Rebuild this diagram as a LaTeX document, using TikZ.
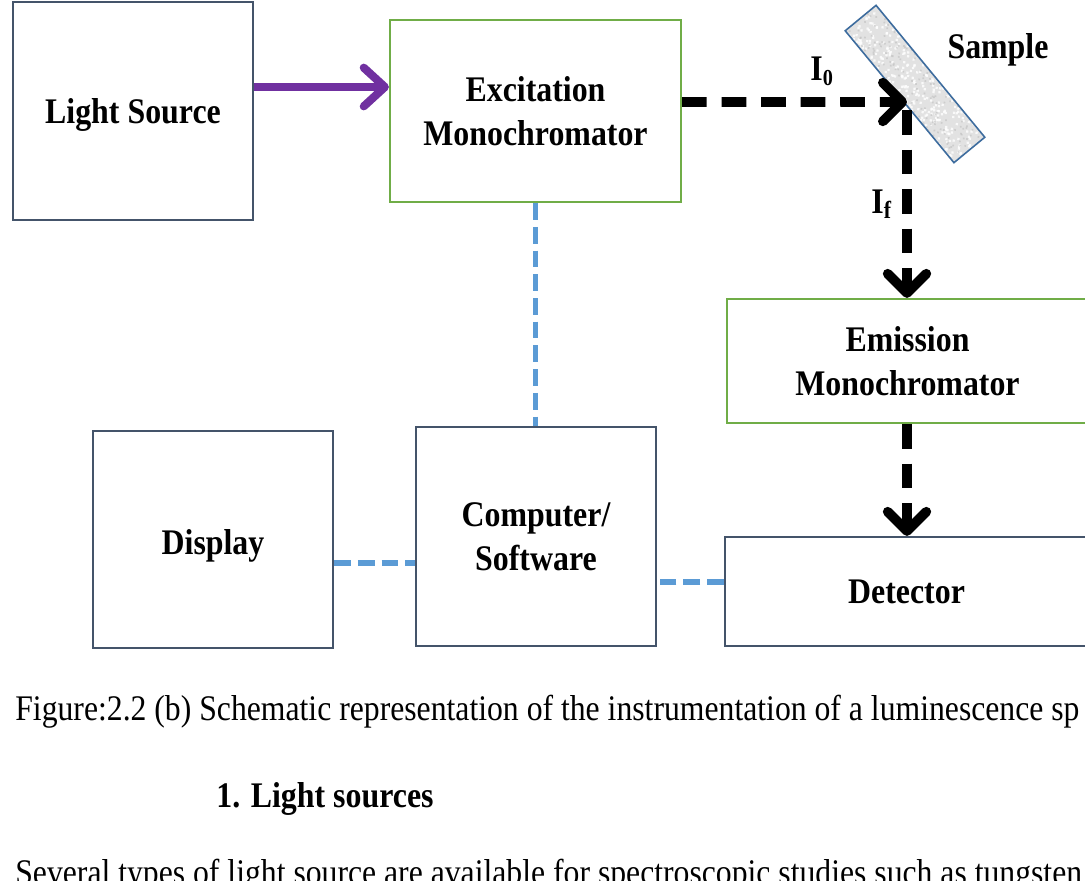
\documentclass[tikz,border=0pt]{standalone}
\usepackage{fontspec}
\setmainfont{Liberation Serif}[FakeStretch=0.885]
\newfontfamily\bodyfont{Liberation Serif}[FakeStretch=0.88]
\usetikzlibrary{arrows.meta,calc}
\definecolor{slate}{HTML}{44546A}
\definecolor{leaf}{HTML}{70AD47}
\definecolor{sky}{HTML}{5B9BD5}
\definecolor{violet}{HTML}{7030A0}
\definecolor{slab}{HTML}{3D6C9E}
\definecolor{slabfill}{HTML}{E2E2E2}

\begin{document}
\begin{tikzpicture}[x=0.02cm, y=-0.02cm,
  txt/.style={font=\fontsize{20.5}{25}\selectfont\bfseries, align=center},
  capt/.style={font=\bodyfont\fontsize{20.5}{25}\selectfont, inner sep=0pt},
  darkbox/.style={draw=slate, line width=1.3pt, fill=white, txt, text depth=0pt, inner sep=0pt},
  greenbox/.style={draw=leaf, line width=1.3pt, fill=white, txt, text depth=0pt, inner sep=0pt},
  beam/.style={draw=black, line width=5.5pt, dash pattern=on 14pt off 8.5pt,
    -{Straight Barb[length=11pt,width=22pt,round]}},
  feed/.style={draw=violet, line width=4.6pt,
    -{Straight Barb[length=12pt,width=22pt,round]}},
  link/.style={draw=sky, line width=3.4pt, dash pattern=on 9.5pt off 4pt},
]
\path[use as bounding box] (0,0) rectangle (1085,880);
\clip (0,0) rectangle (1085,880);
\fill[white] (0,0) rectangle (1085,880);

% instrument blocks
\node[darkbox, minimum width=4.8cm, minimum height=4.36cm] (ls) at (133,111) {Light Source};
\node[greenbox, minimum width=5.82cm, minimum height=3.64cm] (exc) at (535.5,111) {Excitation\\Monochromator};
\node[greenbox, minimum width=7.22cm, minimum height=2.48cm] (em) at (907.5,361) {Emission\\Monochromator};
\node[darkbox, minimum width=7.26cm, minimum height=2.18cm] (det) at (906.5,591.5) {Detector};
\node[darkbox, minimum width=4.8cm, minimum height=4.38cm] (comp) at (536,536.5) {Computer/\\Software};
\node[darkbox, minimum width=4.8cm, minimum height=4.34cm, text height=0.6cm] (disp) at (213,539.5) {Display};

% sample slab with a speckled surface
\begin{scope}[shift={(915,84)}, rotate=-50.5]
  \clip (-85.5,-20) rectangle (85.5,20);
  \fill[slabfill] (-85.5,-20) rectangle (85.5,20);
  \pgfmathsetseed{7}
  \foreach \i in {1,...,260} {
    \pgfmathsetmacro\px{rand*85}
    \pgfmathsetmacro\py{rand*20}
    \fill[white, opacity=0.8] (\px,\py) circle (0.9pt);
  }
  \foreach \i in {1,...,140} {
    \pgfmathsetmacro\px{rand*85}
    \pgfmathsetmacro\py{rand*20}
    \fill[gray!50, opacity=0.6] (\px,\py) circle (0.7pt);
  }
\end{scope}
\node[draw=slab, line width=0.9pt, rotate=-50.5, minimum width=3.42cm, minimum height=0.8cm] (sample) at (915,84) {};
\node[txt, anchor=base] (samplelbl) at (998,58) {Sample};

% light paths
\coordinate (hit) at (907,102);
\draw[feed] ([yshift=0.48cm]ls.east) -- ([yshift=0.48cm]ls.east -| exc.west);
\draw[beam] ([yshift=0.18cm]exc.east) -- (hit);
\draw[beam] ([yshift=-0.16cm]hit) -- (hit |- em.north);
\draw[beam] (em.south -| hit) -- (hit |- det.north);
\node[txt, anchor=base west, inner sep=0pt] (i0) at (810,80) {I\raisebox{-3pt}{\fontsize{13}{13}\selectfont 0}};
\node[txt, anchor=base west, inner sep=0pt] (if) at (871,213) {I\raisebox{-3pt}{\fontsize{14}{14}\selectfont f}};

% control links
\draw[link] (exc.south) -- (exc.south |- comp.north);
\draw[link] ([yshift=-0.47cm]disp.east) -- ([yshift=-0.47cm]disp.east -| comp.west);
\draw[link] ([yshift=0.19cm]det.west) -- ([yshift=0.19cm]det.west -| comp.east);

% text below the figure
\node[capt, anchor=base west] (caption) at (15,720) {Figure:2.2 (b) Schematic representation of the instrumentation of a luminescence sp};
\node[capt, font=\fontsize{20.5}{25}\selectfont\bfseries, anchor=base west] (heading) at (216,807) {1. Light sources};
\node[capt, anchor=base west] (para) at (15,884) {Several types of light source are available for spectroscopic studies such as tungsten};
\end{tikzpicture}
\end{document}
